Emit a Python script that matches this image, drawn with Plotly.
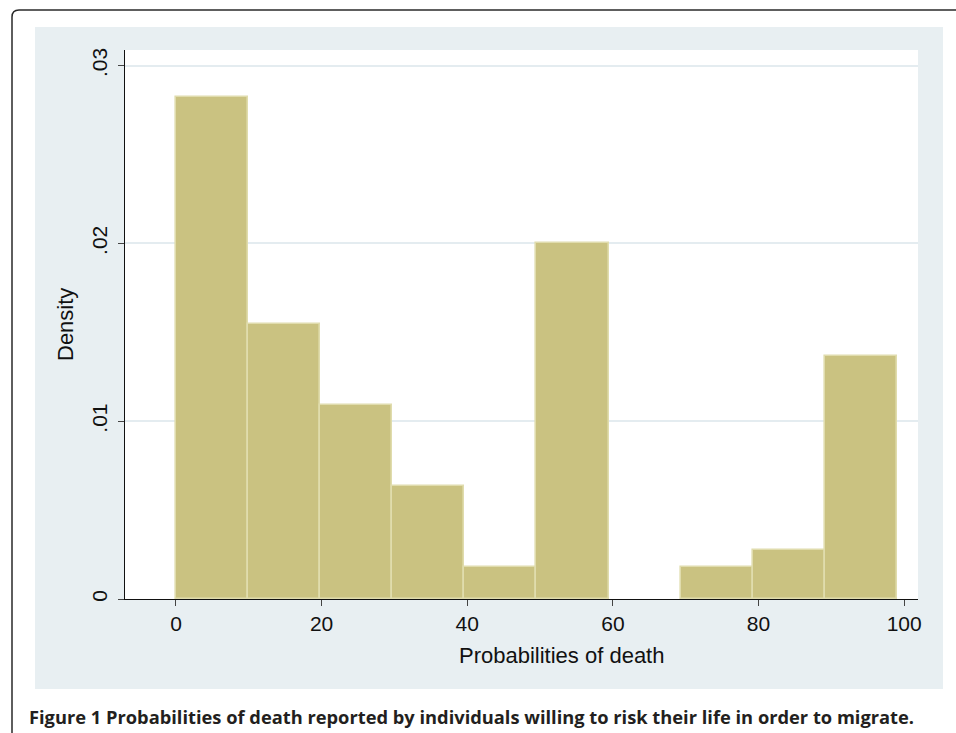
import plotly.graph_objects as go

# Histogram bins (probability of death, %) and densities
bin_edges = [0, 9.9, 19.8, 29.7, 39.6, 49.5, 59.4, 69.3, 79.2, 89.1, 99.0]
densities = [0.02821, 0.01547, 0.01092, 0.00637, 0.00182, 0.02002, 0.0, 0.00182, 0.00273, 0.01365]

x_ticks = [0, 20, 40, 60, 80, 100]
y_ticks = [0, 0.01, 0.02, 0.03]
y_tick_labels = ["0", ".01", ".02", ".03"]

x_title = "Probabilities of death"
y_title = "Density"
caption = "Figure 1 Probabilities of death reported by individuals willing to risk their life in order to migrate."

centers = [(a + b) / 2 for a, b in zip(bin_edges[:-1], bin_edges[1:])]
widths = [b - a for a, b in zip(bin_edges[:-1], bin_edges[1:])]
line_widths = [1.6 if d > 0 else 0 for d in densities]

W, H = 956, 733
L, R, T, B = 125, 38, 50, 134
pw, ph = W - L - R, H - T - B


def px(x):
    return (x - L) / pw


def py(y):
    return (H - B - y) / ph


FONT = "Liberation Sans, Arial, Helvetica, sans-serif"

fig = go.Figure()
fig.add_trace(go.Bar(
    x=centers, y=densities, width=widths,
    marker=dict(color="#cac281", line=dict(color="#e0dcad", width=line_widths)),
    hoverinfo="x+y",
))

shapes = [
    # graph region background
    dict(type="rect", xref="paper", yref="paper", layer="below",
         x0=px(35), x1=px(943), y0=py(689), y1=py(27),
         fillcolor="#e8eff2", line=dict(width=0)),
    # plot region
    dict(type="rect", xref="paper", yref="paper", layer="below",
         x0=0, x1=1, y0=0, y1=1,
         fillcolor="white", line=dict(width=0)),
]
# outer frame with rounded corner
x0, yt = px(12), py(10)
rx, ry = 7 / pw, 7 / ph
path = (f"M {x0},{py(740)} L {x0},{yt - ry} Q {x0},{yt} {x0 + rx},{yt} "
        f"L {px(960)},{yt}")
shapes.append(dict(type="path", xref="paper", yref="paper", path=path,
                   line=dict(color="#2a2a2a", width=1.5), layer="above"))

annotations = [
    dict(text=x_title, xref="paper", yref="paper", x=px(561), y=py(656),
         xanchor="center", yanchor="middle", showarrow=False,
         font=dict(family=FONT, size=22, color="#111")),
    dict(text=y_title, xref="paper", yref="paper", x=px(65), y=py(325),
         xanchor="center", yanchor="middle", showarrow=False, textangle=-90,
         font=dict(family=FONT, size=22, color="#111")),
    dict(text="<b>" + caption + "</b>", xref="paper", yref="paper",
         x=px(27), y=py(716), xanchor="left", yanchor="middle", showarrow=False,
         font=dict(family="Open Sans, Lato, sans-serif", size=18.3, color="#231f20")),
]

fig.update_layout(
    width=W, height=H,
    margin=dict(l=L, r=R, t=T, b=B, pad=0),
    paper_bgcolor="white", plot_bgcolor="rgba(0,0,0,0)",
    showlegend=False, bargap=0,
    shapes=shapes, annotations=annotations,
    font=dict(family=FONT, size=21, color="#111"),
)
fig.update_xaxes(
    range=[-7.0, 101.9], tickvals=x_ticks, showgrid=False, zeroline=False,
    showline=True, linecolor="#111", linewidth=1.2,
    ticks="outside", ticklen=6, tickcolor="#444", tickwidth=1.2,
    tickfont=dict(family=FONT, size=21, color="#111"),
)
fig.update_yaxes(
    range=[0, 0.03088], tickvals=y_ticks, ticktext=y_tick_labels, tickangle=-90,
    showgrid=True, gridcolor="#e4ecf0", gridwidth=2, zeroline=False,
    showline=True, linecolor="#111", linewidth=1.2,
    ticks="outside", ticklen=6, tickcolor="#444", tickwidth=1.2,
    ticklabelstandoff=3,
    tickfont=dict(family=FONT, size=21, color="#111"),
)

fig.write_html("out.html", config={"displayModeBar": False},
               post_script="document.body.style.margin='0';")
